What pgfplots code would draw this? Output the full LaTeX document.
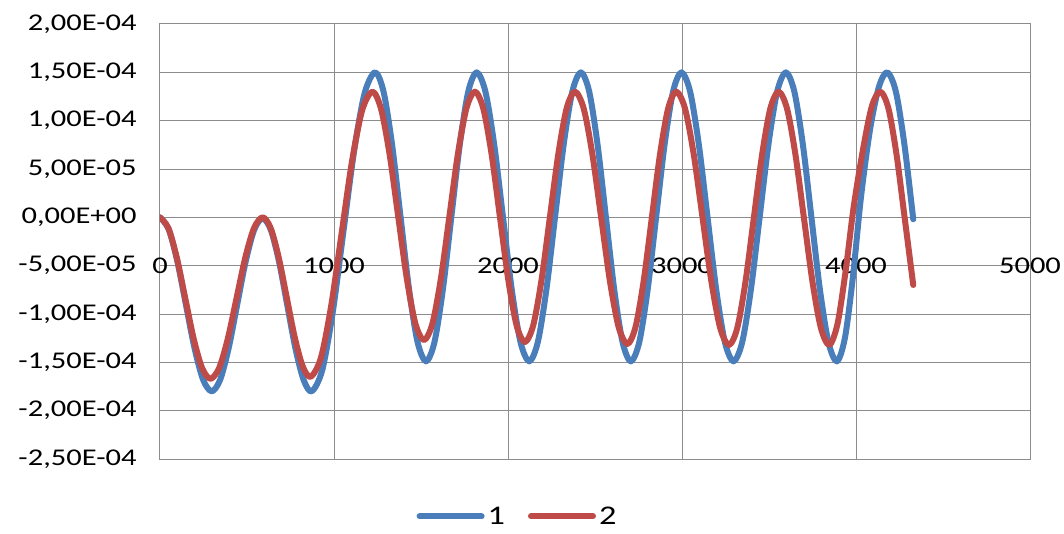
\documentclass[border=0pt]{standalone}
\usepackage{graphicx}
\usepackage{fontspec}
\setmainfont{Carlito}
\usepackage{pgfplots}
\usepackage{pgfplotstable}
\pgfplotsset{compat=1.18}
\definecolor{sblue}{RGB}{74,126,187}
\definecolor{sred}{RGB}{190,75,72}
\definecolor{gridgray}{RGB}{140,140,140}
\newcommand{\sx}[1]{\scalebox{1.27}[1]{#1}}

\pgfplotstableread{
x y
0 0
49.5 -0.121e-4
99 -0.45e-4
148.5 -0.90e-4
198 -1.35e-4
247.5 -1.679e-4
297 -1.80e-4
345.8 -1.680e-4
394.7 -1.353e-4
443.5 -0.905e-4
492.3 -0.458e-4
541.2 -0.130e-4
590 -0.01e-4
637 -0.130e-4
684 -0.458e-4
731 -0.905e-4
778 -1.353e-4
825 -1.680e-4
872 -1.80e-4
932.7 -1.579e-4
993.3 -0.975e-4
1054 -0.15e-4
1114.7 0.675e-4
1175.3 1.279e-4
1236 1.50e-4
1284.8 1.300e-4
1333.7 0.753e-4
1382.5 0.005e-4
1431.3 -0.743e-4
1480.2 -1.290e-4
1529 -1.49e-4
1577.5 -1.290e-4
1626 -0.743e-4
1674.5 0.005e-4
1723 0.753e-4
1771.5 1.300e-4
1820 1.50e-4
1870.3 1.300e-4
1920.7 0.753e-4
1971 0.005e-4
2021.3 -0.743e-4
2071.7 -1.290e-4
2122 -1.49e-4
2171.5 -1.290e-4
2221 -0.743e-4
2270.5 0.005e-4
2320 0.753e-4
2369.5 1.300e-4
2419 1.50e-4
2466.8 1.300e-4
2514.7 0.753e-4
2562.5 0.005e-4
2610.3 -0.743e-4
2658.2 -1.290e-4
2706 -1.49e-4
2754.5 -1.290e-4
2803 -0.743e-4
2851.5 0.005e-4
2900 0.753e-4
2948.5 1.300e-4
2997 1.50e-4
3046.8 1.300e-4
3096.7 0.753e-4
3146.5 0.005e-4
3196.3 -0.743e-4
3246.2 -1.290e-4
3296 -1.49e-4
3346.2 -1.290e-4
3396.3 -0.743e-4
3446.5 0.005e-4
3496.7 0.753e-4
3546.8 1.300e-4
3597 1.50e-4
3645.8 1.300e-4
3694.7 0.753e-4
3743.5 0.005e-4
3792.3 -0.743e-4
3841.2 -1.290e-4
3890 -1.49e-4
3936 -1.250e-4
3982 -0.620e-4
4028 0.200e-4
4080 0.900e-4
4131.7 1.350e-4
4180 1.50e-4
4229.2 1.300e-4
4278.3 0.753e-4
4329 -0.02e-4
}\seriesone

\pgfplotstableread{
x y
0 0
48.3 -0.112e-4
96.7 -0.418e-4
145 -0.835e-4
193.3 -1.253e-4
241.7 -1.558e-4
290 -1.67e-4
340 -1.558e-4
390 -1.253e-4
440 -0.835e-4
490 -0.418e-4
540 -0.112e-4
590 0.0
636 -0.111e-4
682 -0.413e-4
728 -0.825e-4
774 -1.238e-4
820 -1.540e-4
866 -1.65e-4
925 -1.452e-4
984 -0.913e-4
1043 -0.175e-4
1102 0.563e-4
1161 1.102e-4
1220 1.30e-4
1269.5 1.128e-4
1319 0.658e-4
1368.5 0.015e-4
1418 -0.628e-4
1467.5 -1.098e-4
1517 -1.27e-4
1565.8 -1.098e-4
1614.7 -0.628e-4
1663.5 0.015e-4
1712.3 0.658e-4
1761.2 1.128e-4
1810 1.30e-4
1857.8 1.127e-4
1905.7 0.653e-4
1953.5 0.005e-4
2001.3 -0.643e-4
2049.2 -1.117e-4
2097 -1.29e-4
2145 -1.117e-4
2193 -0.643e-4
2241 0.005e-4
2289 0.653e-4
2337 1.127e-4
2385 1.30e-4
2435.2 1.125e-4
2485.3 0.648e-4
2535.5 -0.005e-4
2585.7 -0.658e-4
2635.8 -1.135e-4
2686 -1.31e-4
2732.8 -1.135e-4
2779.7 -0.658e-4
2826.5 -0.005e-4
2873.3 0.648e-4
2920.2 1.125e-4
2967 1.30e-4
3017.5 1.125e-4
3068 0.645e-4
3118.5 -0.010e-4
3169 -0.665e-4
3219.5 -1.145e-4
3270 -1.32e-4
3317.5 -1.145e-4
3365 -0.665e-4
3412.5 -0.010e-4
3460 0.645e-4
3507.5 1.125e-4
3555 1.30e-4
3603.7 1.125e-4
3652.3 0.645e-4
3701 -0.010e-4
3749.7 -0.665e-4
3798.3 -1.145e-4
3847 -1.32e-4
3894 -1.100e-4
3940 -0.560e-4
3986 0.100e-4
4040 0.700e-4
4091.2 1.150e-4
4140 1.30e-4
4186.7 1.125e-4
4233.3 0.645e-4
4280 -0.010e-4
4329 -0.70e-4
}\seriestwo

\begin{document}
\begin{tikzpicture}
\path[use as bounding box] (-160pt,-74pt) rectangle (904pt,459pt);
\begin{axis}[
  at={(0pt,0pt)}, anchor=south west,
  width=870pt, height=435pt, scale only axis,
  xmin=0, xmax=5000, ymin=-2.5e-4, ymax=2e-4,
  xtick={0,1000,2000,3000,4000,5000},
  xticklabels={\sx{0},\sx{1000},\sx{2000},\sx{3000},\sx{4000},\sx{5000}},
  ytick={-2.5e-4,-2e-4,-1.5e-4,-1e-4,-0.5e-4,0,0.5e-4,1e-4,1.5e-4,2e-4},
  yticklabels={\sx{-2,50E-04},\sx{-2,00E-04},\sx{-1,50E-04},\sx{-1,00E-04},\sx{-5,00E-05},\sx{0,00E+00},\sx{5,00E-05},\sx{1,00E-04},\sx{1,50E-04},\sx{2,00E-04}},
  scaled y ticks=false, scaled x ticks=false,
  grid=major,
  major grid style={gridgray, line width=1pt},
  axis line style={gridgray, line width=1pt},
  major tick length=0pt,
  tick label style={font=\fontsize{24}{28}\selectfont, text=black},
  yticklabel style={xshift=-20pt},
  xticklabel style={yshift=204.8pt},
  legend columns=-1,
  legend style={at={(0.4115,-0.132)}, anchor=center, draw=none, fill=none,
    font=\fontsize{27}{30}\selectfont,
    nodes={inner sep=3pt},
    /tikz/every even column/.append style={column sep=20pt}},
  legend image code/.code={\draw[#1, line width=6pt] (0pt,0pt) -- (62pt,0pt);},
]
\addplot[sblue, line width=6pt, line cap=round, line join=round, smooth] table[x=x,y=y] {\seriesone};
\addlegendentry{\sx{1}}
\addplot[sred, line width=6pt, line cap=round, line join=round, smooth] table[x=x,y=y] {\seriestwo};
\addlegendentry{\sx{2}}
\end{axis}
\end{tikzpicture}
\end{document}
